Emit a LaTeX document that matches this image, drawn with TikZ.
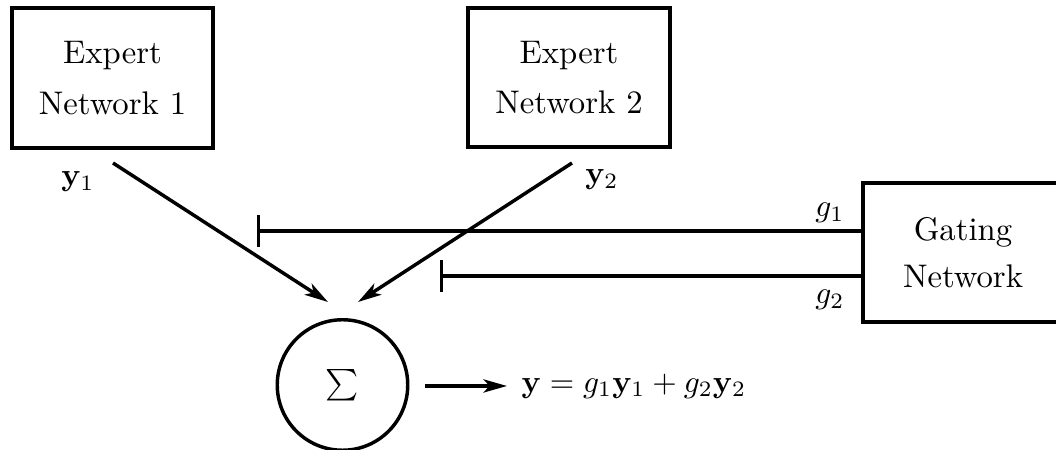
\documentclass[tikz,border=0pt]{standalone}
\usetikzlibrary{arrows.meta}
\begin{document}
\begin{tikzpicture}[x=0.318pt,y=-0.318pt,
  every node/.style={font=\fontsize{10.4}{12.5}\selectfont},
  box/.style={draw, line width=1.3pt, rectangle, inner sep=0pt, align=center},
  sumnode/.style={draw, line width=1.1pt, circle, inner sep=0pt, minimum size=41.5pt, font=\fontsize{12.5}{15}\selectfont},
  arr/.style={-{Stealth[length=7.5pt,width=4.2pt,inset=2pt]}, line width=1.1pt},
  gate/.style={{Bar[width=10pt]}-, line width=1.1pt},
  lbl/.style={inner sep=0pt}]
\useasboundingbox (0,0) rectangle (1056,450);
% boxes
\node[box, minimum width=63.9pt, minimum height=44.5pt] (e1) at (112.5,78) {Expert\\[3.5pt]Network 1};
\node[box, minimum width=64.2pt, minimum height=44.2pt] (e2) at (569,77.5) {Expert\\[3.5pt]Network 2};
\node[box, minimum width=63.6pt, minimum height=44.2pt] (gn) at (963,252.5) {Gating\\[2.5pt]Network};
\node[sumnode] (s) at (342.5,385) {$\sum$};
% labels
\node[lbl] (y1) at (78,182) {$\mathbf{y}_1$};
\node[lbl] (y2) at (602,180) {$\mathbf{y}_2$};
\node[lbl] (g1) at (830,213) {$g_1$};
\node[lbl] (g2) at (830,300) {$g_2$};
\node[lbl, anchor=west] (out) at (521,386) {$\mathbf{y}=g_1\mathbf{y}_1+g_2\mathbf{y}_2$};
% connector end points
\coordinate (a1s) at (113,163);
\coordinate (a1e) at (328,302);
\coordinate (a2s) at (572,163);
\coordinate (a2e) at (358,302);
\coordinate (b1) at (257,231);
\coordinate (b2) at (440,276);
\coordinate (os) at (425,386);
\coordinate (oe) at (507,386);
% connectors
\draw[arr] (a1s) -- (a1e);
\draw[arr] (a2s) -- (a2e);
\draw[gate] (b1) -- (b1 -| gn.west);
\draw[gate] (b2) -- (b2 -| gn.west);
\draw[arr] (os) -- (oe);
\end{tikzpicture}
\end{document}
